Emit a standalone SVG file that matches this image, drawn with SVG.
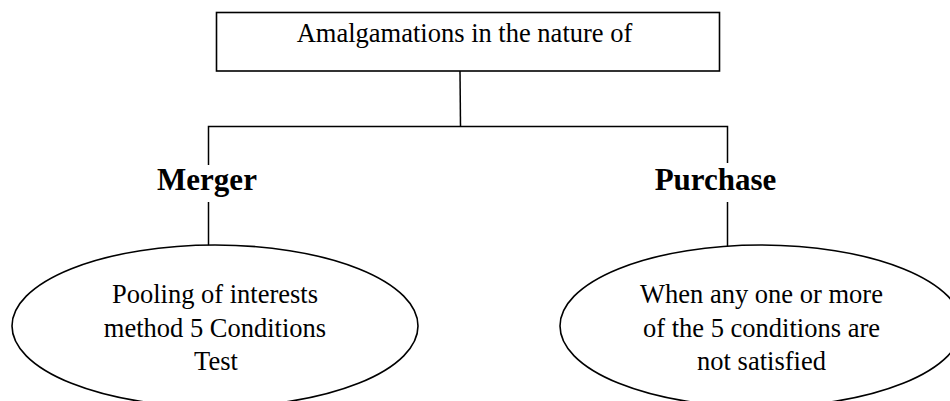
<svg xmlns="http://www.w3.org/2000/svg" width="950" height="401" viewBox="0 0 950 401">
<style>
.ln{stroke:#000;stroke-width:1.5;fill:none}
.shape{stroke:#000;stroke-width:1.6;fill:#fff}
.t{font-family:"Liberation Serif","Times New Roman",serif;font-size:26.5px;fill:#000;text-anchor:middle}
.b{font-family:"Liberation Serif","Times New Roman",serif;font-size:31px;font-weight:bold;fill:#000;text-anchor:middle}
</style>
<rect width="950" height="401" fill="#fff"/>
<g id="connectors">
<line class="ln" x1="460" y1="71" x2="460.5" y2="126.5"/>
<polyline class="ln" points="208.5,165 208.5,126.5 727.5,126.5 727.5,163"/>
<line class="ln" x1="208.5" y1="202" x2="208.5" y2="246"/>
<line class="ln" x1="727.5" y1="202" x2="727.5" y2="246"/>
</g>
<g id="root">
<rect class="shape" x="216.5" y="12.5" width="503" height="58.5"/>
<text class="t" x="464.5" y="42">Amalgamations in the nature of</text>
</g>
<g id="merger">
<text class="b" x="207" y="190">Merger</text>
</g>
<g id="purchase">
<text class="b" x="715.5" y="190">Purchase</text>
</g>
<g id="pooling">
<ellipse class="shape" cx="215" cy="326" rx="203" ry="81"/>
<text class="t" x="215" y="303">Pooling of interests</text>
<text class="t" x="215" y="337">method 5 Conditions</text>
<text class="t" x="216" y="370">Test</text>
</g>
<g id="notsatisfied">
<ellipse class="shape" cx="761" cy="326" rx="201" ry="81"/>
<text class="t" x="761.5" y="303">When any one or more</text>
<text class="t" x="761.5" y="337">of the 5 conditions are</text>
<text class="t" x="761.5" y="370">not satisfied</text>
</g>
</svg>
